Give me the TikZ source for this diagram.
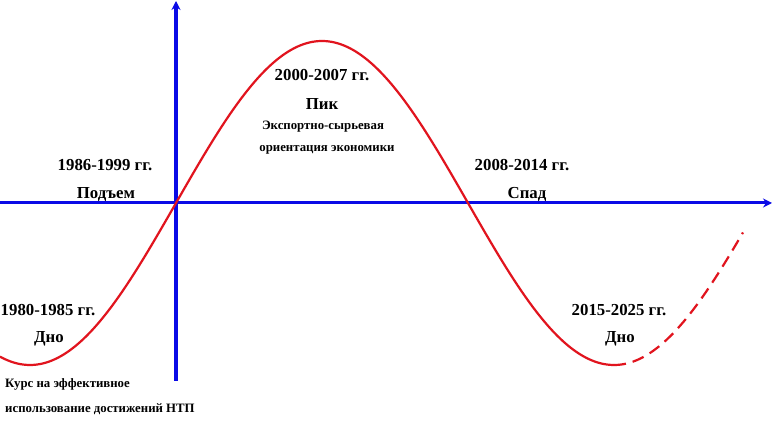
\documentclass[tikz,border=0pt]{standalone}
\usepackage{fontspec}
\setmainfont{Liberation Serif}
\usetikzlibrary{arrows.meta}
\definecolor{axisblue}{RGB}{10,10,230}
\definecolor{curvered}{RGB}{225,20,30}
\begin{document}
\begin{tikzpicture}[x=1pt,y=-1pt,
  axis/.style={draw=axisblue,line width=3.5pt,-{Stealth[length=9pt,width=9pt]}},
  curve/.style={draw=curvered,line width=2.2pt},
  lab/.style={font=\bfseries\fontsize{16.8}{18}\selectfont,inner sep=0pt,anchor=center},
  small/.style={font=\bfseries\fontsize{12.8}{14}\selectfont,inner sep=0pt}]
\useasboundingbox (0,0) rectangle (774,435);
\fill[white] (0,0) rectangle (774,435);
% axes
\coordinate (vbot) at (176,381);
\coordinate (vtop) at (176,1);
\coordinate (hleft) at (0,203);
\coordinate (hright) at (772,203);
\draw[axis,line width=3pt] (hleft) -- (hright);
\draw[axis] (vbot) -- (vtop);
% curve
\draw[curve] plot[domain=0:614,samples=240,smooth] (\x,{203-162*sin((\x-176)/292*180)});
\draw[curve,dash pattern=on 12pt off 7pt] plot[domain=614:743,samples=80,smooth] (\x,{203-162*sin((\x-176)/292*180)});
% labels
\node[lab] (y1) at (105,165) {1986-1999 гг.};
\node[lab] (s1) at (106,194) {Подъем};
\node[lab] (y2) at (322,75) {2000-2007 гг.};
\node[lab] (s2) at (322,104) {Пик};
\node[small] (d2a) at (323,127) {Экспортно-сырьевая};
\node[small] (d2b) at (327,150) {ориентация экономики};
\node[lab] (y3) at (522,165) {2008-2014 гг.};
\node[lab] (s3) at (527,194) {Спад};
\node[lab] (y4) at (48,310) {1980-1985 гг.};
\node[lab] (s4) at (49,339) {Дно};
\node[lab] (y5) at (619,310) {2015-2025 гг.};
\node[lab] (s5) at (620,339) {Дно};
\node[small,anchor=west] (k1) at (5,384) {Курс на эффективное};
\node[small,anchor=west] (k2) at (5,409) {использование достижений НТП};
\end{tikzpicture}
\end{document}
